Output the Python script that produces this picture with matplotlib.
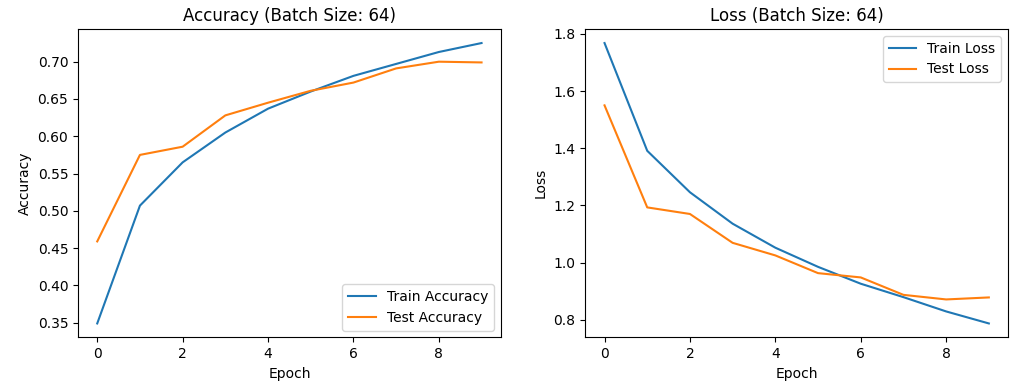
import matplotlib
matplotlib.use("Agg")
import matplotlib.pyplot as plt

epochs = list(range(10))
train_acc = [0.349, 0.507, 0.565, 0.605, 0.637, 0.660, 0.681, 0.697, 0.713, 0.725]
test_acc = [0.459, 0.575, 0.586, 0.628, 0.645, 0.661, 0.672, 0.691, 0.700, 0.699]
train_loss = [1.768, 1.391, 1.246, 1.136, 1.052, 0.985, 0.926, 0.879, 0.829, 0.787]
test_loss = [1.550, 1.193, 1.170, 1.069, 1.025, 0.963, 0.948, 0.887, 0.871, 0.878]
batch_size = 64

fig, (ax1, ax2) = plt.subplots(1, 2, figsize=(10.32, 3.87), dpi=100)

ax1.plot(epochs, train_acc, label='Train Accuracy')
ax1.plot(epochs, test_acc, label='Test Accuracy')
ax1.set_title(f'Accuracy (Batch Size: {batch_size})')
ax1.set_xlabel('Epoch')
ax1.set_ylabel('Accuracy')
ax1.legend(loc='lower right')

ax2.plot(epochs, train_loss, label='Train Loss')
ax2.plot(epochs, test_loss, label='Test Loss')
ax2.set_title(f'Loss (Batch Size: {batch_size})')
ax2.set_xlabel('Epoch')
ax2.set_ylabel('Loss')
ax2.legend()

plt.subplots_adjust(left=0.0756, right=0.9768, top=0.925, bottom=0.128, wspace=0.2)
plt.savefig('out.png')
